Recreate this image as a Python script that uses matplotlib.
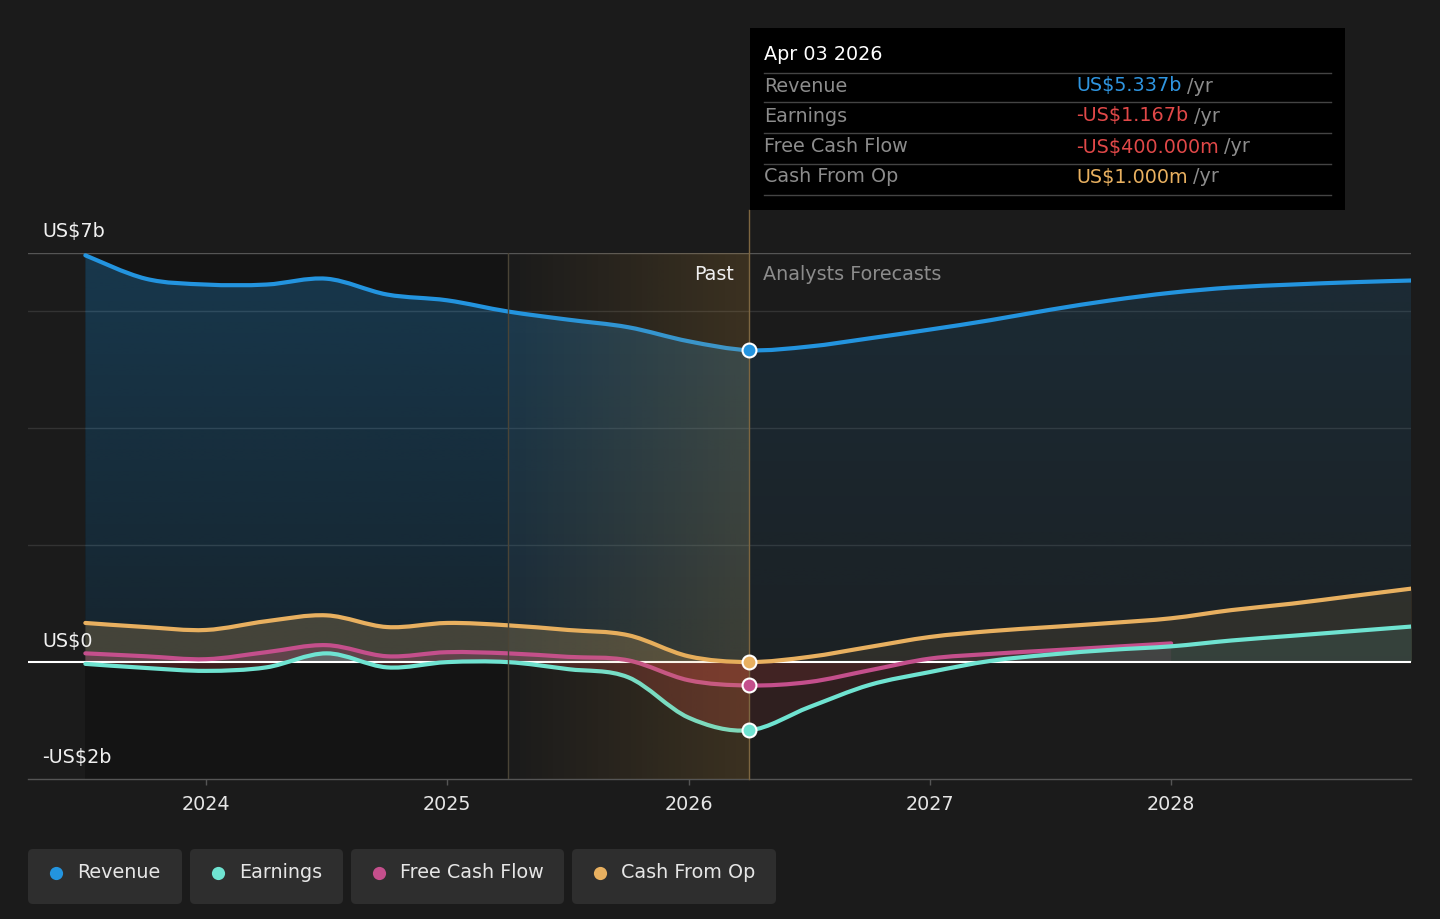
import numpy as np
import matplotlib
matplotlib.use('Agg')
import matplotlib.pyplot as plt
from matplotlib.path import Path
from matplotlib.patches import PathPatch, FancyBboxPatch, Rectangle
from matplotlib.text import Annotation
from matplotlib.transforms import Bbox, TransformedBbox

### data (US$ b), quarterly points
years = [2023.5, 2023.75, 2024.0, 2024.25, 2024.5, 2024.75, 2025.0, 2025.25, 2025.5, 2025.75,
         2026.0, 2026.25, 2026.5, 2026.75, 2027.0, 2027.25, 2027.5, 2027.75, 2028.0,
         2028.25, 2028.5, 2028.75, 2029.0]
revenue = [6.96, 6.56, 6.46, 6.46, 6.56, 6.29, 6.19, 6.00, 5.86, 5.73,
           5.49, 5.337, 5.40, 5.54, 5.69, 5.85, 6.03, 6.19, 6.32,
           6.41, 6.46, 6.50, 6.53]
earnings = [-0.03, -0.10, -0.15, -0.09, 0.15, -0.09, 0.0, 0.0, -0.12, -0.26,
            -0.95, -1.167, -0.77, -0.39, -0.17, 0.02, 0.13, 0.21, 0.27,
            0.37, 0.45, 0.53, 0.61]
cash_from_op = [0.67, 0.60, 0.55, 0.70, 0.80, 0.60, 0.67, 0.63, 0.55, 0.46,
                0.10, 0.001, 0.09, 0.26, 0.43, 0.53, 0.60, 0.67, 0.75,
                0.89, 1.00, 1.13, 1.26]
fcf_years = years[:19]
free_cash_flow = [0.15, 0.10, 0.05, 0.17, 0.29, 0.10, 0.17, 0.15, 0.09, 0.03,
                  -0.31, -0.40, -0.34, -0.14, 0.06, 0.14, 0.20, 0.26, 0.32]

past_start = 2025.25
today = 2026.25
yticks = [7, 0, -2]
ytick_labels = ['US$7b', 'US$0', '-US$2b']
xticks = [2024, 2025, 2026, 2027, 2028]

c_rev = '#2394df'
c_earn = '#6fe3d1'
c_fcf = '#c44f8c'
c_cfo = '#e8b060'
c_neg = '#e04848'
bg = '#1b1b1b'

plt.rcParams['font.family'] = 'DejaVu Sans'
fs = 13.8

fig = plt.figure(figsize=(14.4, 9.19), dpi=100, facecolor=bg)
W, H = 1440, 919
ax = fig.add_axes([28 / W, (H - 779) / H, (1411 - 28) / W, (779 - 253) / H])
ax.set_facecolor(bg)
x0, x1 = 2023.2623, 2028.994
y0, y1 = -2, 7


def smooth_path(xs, ys):
    # catmull-rom through the points, drawn as cubic beziers
    pts = np.column_stack([xs, ys]).astype(float)
    n = len(pts)
    verts = [pts[0]]
    codes = [Path.MOVETO]
    for i in range(n - 1):
        p0 = pts[max(i - 1, 0)]
        p1 = pts[i]
        p2 = pts[i + 1]
        p3 = pts[min(i + 2, n - 1)]
        verts += [p1 + (p2 - p0) / 6, p2 - (p3 - p1) / 6, p2]
        codes += [Path.CURVE4] * 3
    return verts, codes


def area_path(xs, ys):
    verts, codes = smooth_path(xs, ys)
    verts = verts + [(xs[-1], 0), (xs[0], 0), (xs[0], ys[0])]
    codes = codes + [Path.LINETO, Path.LINETO, Path.CLOSEPOLY]
    return Path(verts, codes)


# darker past region
ax.axvspan(years[0], past_start, color='black', alpha=0.25, lw=0, zorder=0)

# grid
for g in [6, 4, 2]:
    ax.axhline(g, color='#333333', lw=1, zorder=0.5)
ax.axhline(7, color='#555555', lw=1, zorder=0.5)
ax.axhline(0, color='white', lw=1.5, zorder=3)

# revenue gradient fill
rev_patch = PathPatch(area_path(years, revenue), facecolor='none', edgecolor='none')
ax.add_patch(rev_patch)
rgb = np.array(matplotlib.colors.to_rgb(c_rev))
for xa, xb, a_top, a_bot in [(years[0], today, 0.28, 0.13), (today, years[-1], 0.14, 0.05)]:
    grad = np.zeros((100, 1, 4))
    grad[:, 0, :3] = rgb
    grad[:, 0, 3] = np.linspace(a_top, a_bot, 100)
    im = ax.imshow(grad, extent=(xa, xb, 0, 7), aspect='auto', zorder=1, interpolation='bilinear')
    im.set_clip_path(rev_patch)

# other series fills, positive in own colour, negative in red
for xs, ys, col in [(years, cash_from_op, c_cfo), (fcf_years, free_cash_flow, c_fcf),
                    (years, earnings, c_earn)]:
    for xa, xb, alpha in [(years[0], today, 0.22), (today, years[-1], 0.10)]:
        for ya, yb, fc in [(0, 7, col), (-2, 0, c_neg)]:
            p = PathPatch(area_path(xs, ys), facecolor=fc, edgecolor='none', alpha=alpha, zorder=2)
            ax.add_patch(p)
            p.set_clip_box(TransformedBbox(Bbox.from_extents(xa, ya, xb, yb), ax.transData))

# lines
for xs, ys, col in [(years, revenue, c_rev), (years, cash_from_op, c_cfo),
                    (fcf_years, free_cash_flow, c_fcf), (years, earnings, c_earn)]:
    v, c = smooth_path(xs, ys)
    ax.add_patch(PathPatch(Path(v, c), facecolor='none', edgecolor=col, lw=3,
                           capstyle='round', joinstyle='round', zorder=4))

# past highlight
hl = np.zeros((1, 100, 4))
hl[0, :, :3] = np.array([220, 160, 60]) / 255
hl[0, :, 3] = np.linspace(0, 0.17, 100)
ax.imshow(hl, extent=(past_start, today, y0, y1), aspect='auto', zorder=5, interpolation='bilinear')
ax.axvline(past_start, color='#4a4436', lw=1, zorder=5)
ax.plot([today, today], [y0, y1 + 43 / 58.5], color='#7d6640', lw=1, zorder=5, clip_on=False)

# markers at today
for val, col in [(revenue[11], c_rev), (cash_from_op[11], c_cfo),
                 (free_cash_flow[11], c_fcf), (earnings[11], c_earn)]:
    ax.plot([today], [val], 'o', ms=10, color=col, mec='white', mew=1.5, zorder=7)

ax.annotate('Past', xy=(today, 6.63), xytext=(-11, 0), textcoords='offset points',
            ha='right', va='center', color='#f0f0f0', fontsize=fs, zorder=8)
ax.annotate('Analysts Forecasts', xy=(today, 6.63), xytext=(10, 0), textcoords='offset points',
            ha='left', va='center', color='#8c8c8c', fontsize=fs, zorder=8)

# y labels
for yv, lab in zip(yticks, ytick_labels):
    ax.text(0.0101, yv + 0.36, lab, transform=ax.get_yaxis_transform(), ha='left', va='center',
            color='#f0f0f0', fontsize=fs, zorder=8)

ax.set_xlim(x0, x1)
ax.set_ylim(y0, y1)
ax.set_yticks([])
ax.set_xticks(xticks)
ax.set_xticklabels([str(x) for x in xticks])
ax.tick_params(axis='x', colors='#555555', labelcolor='#e6e6e6', length=4.5, width=1,
               pad=7, labelsize=fs)
for s in ['top', 'left', 'right']:
    ax.spines[s].set_visible(False)
ax.spines['bottom'].set_color('#555555')
ax.spines['bottom'].set_linewidth(1)

# tooltip
fig.add_artist(Rectangle((750 / 100, (H - 210) / 100), 5.95, 1.82, transform=fig.dpi_scale_trans,
                         facecolor='black', edgecolor='none', zorder=5))
fig.text(764 / W, 1 - 55 / H, 'Apr 03 2026', color='white', fontsize=fs, va='center', zorder=6)
for yy in [73, 102, 133, 164, 195]:
    fig.add_artist(plt.Line2D([764 / W, 1331 / W], [1 - yy / H, 1 - yy / H], color='#444444',
                              lw=1, zorder=6))
rows = [('Revenue', 'US$5.337b', '#2f95e0', 86), ('Earnings', '-US$1.167b', '#e04848', 116),
        ('Free Cash Flow', '-US$400.000m', '#e04848', 147), ('Cash From Op', 'US$1.000m', '#e8b060', 177)]
for lab, val, col, yy in rows:
    fig.text(764 / W, 1 - yy / H, lab, color='#8c8c8c', fontsize=fs, va='center', zorder=6)
    t = fig.text(1076 / W, 1 - yy / H, val, color=col, fontsize=fs, va='center', zorder=6)
    fig.add_artist(Annotation('/yr', xy=(1, 0.5), xycoords=t, xytext=(4, 0),
                              textcoords='offset points', ha='left', va='center',
                              color='#8c8c8c', fontsize=fs, zorder=6))

# legend
leg = [('Revenue', c_rev, 28, 182), ('Earnings', c_earn, 190, 343),
       ('Free Cash Flow', c_fcf, 351, 564), ('Cash From Op', c_cfo, 572, 776)]
for lab, col, xa, xb in leg:
    fig.add_artist(FancyBboxPatch((xa / 100, (H - 904) / 100), (xb - xa) / 100, 0.55,
                                  boxstyle='round,pad=0,rounding_size=0.05',
                                  transform=fig.dpi_scale_trans, facecolor='#2e2e2e', edgecolor='none'))
    fig.add_artist(plt.Line2D([(xa + 28) / W], [1 - 873 / H], marker='o', ms=9.5, color=col, mew=0))
    fig.text((xa + 49) / W, 1 - 873 / H, lab, color='#e6e6e6', fontsize=fs, va='center')

fig.savefig('out.png', dpi=100, facecolor=bg)
